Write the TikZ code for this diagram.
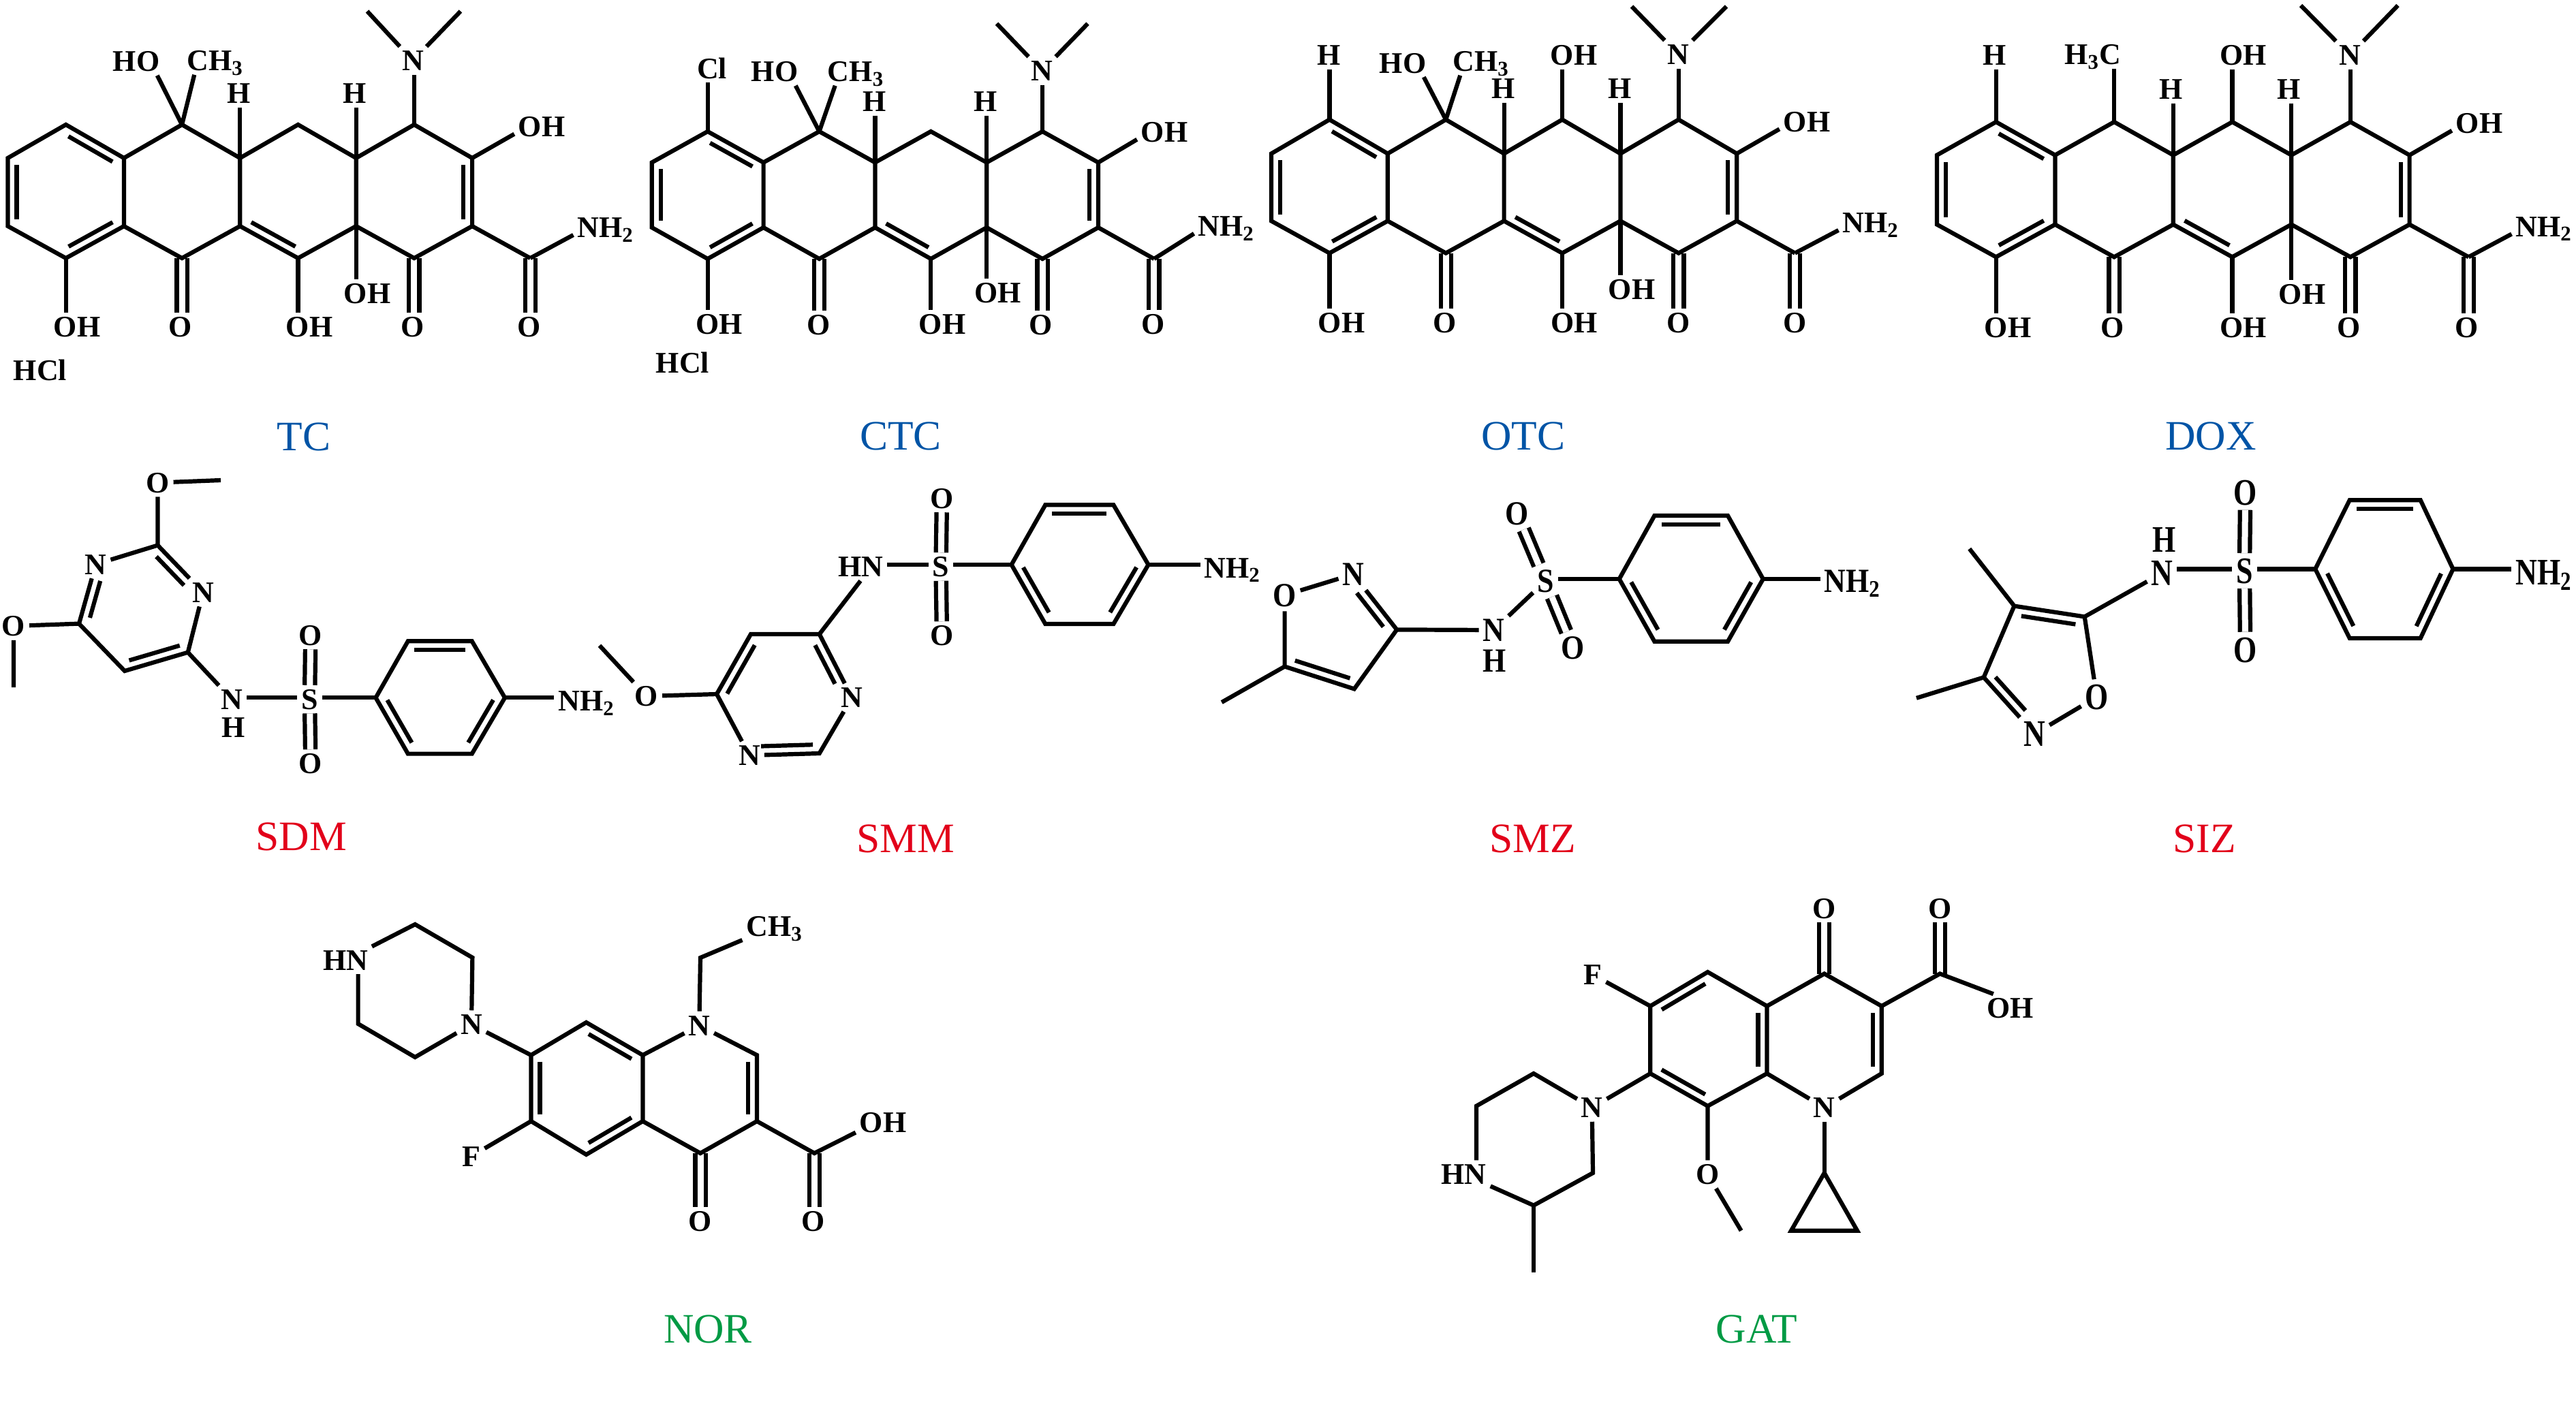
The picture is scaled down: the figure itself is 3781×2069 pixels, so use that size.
\documentclass[tikz,border=0pt]{standalone}
\usepackage{fontspec}
\setmainfont{Liberation Serif}
\usetikzlibrary{calc}

\definecolor{tetrablue}{RGB}{0,84,166}
\definecolor{sulfared}{RGB}{226,0,26}
\definecolor{quingreen}{RGB}{0,154,68}

\newcommand{\innerbond}[5]{
    \draw[bond] ($(#1)!#4!(#2)!0.13cm!#3:(#2)$) -- ($(#1)!#5!(#2)!0.13cm!#3:(#2)$);
}

\newcommand{\tetragrid}[7]{
    \foreach \col in {0,2,4,6,8} {
        \coordinate (#1u\col) at ({#2+\col*#3},#5);
        \coordinate (#1l\col) at ({#2+\col*#3},#6);
    }
    \foreach \col in {1,3,5,7,9} {
        \coordinate (#1t\col) at ({#2+\col*#3},#4);
        \coordinate (#1b\col) at ({#2+\col*#3},#7);
    }
}

\newcommand{\tetrabonds}[1]{
    \draw[dblbond] (#1b3) -- (#1b3 |- #1ob.north);
    \draw[dblbond] (#1b7) -- (#1b7 |- #1oe.north);
    \draw[dblbond] (#1b9) -- (#1b9 |- #1of.north);
    \draw[bond] (#1u0) -- (#1t1) -- (#1u2) -- (#1t3) -- (#1u4) -- (#1t5) -- (#1u6) -- (#1t7) -- (#1u8)
        -- (#1l8) -- (#1b7) -- (#1l6) -- (#1b5) -- (#1l4) -- (#1b3) -- (#1l2) -- (#1b1) -- (#1l0) -- cycle;
    \draw[bond] (#1u2) -- (#1l2) (#1u4) -- (#1l4) (#1u6) -- (#1l6) (#1l8) -- (#1b9);
    \innerbond{#1u0}{#1l0}{90}{.1}{.9}
    \innerbond{#1t1}{#1u2}{-90}{.12}{.88}
    \innerbond{#1b1}{#1l2}{90}{.12}{.88}
    \innerbond{#1l4}{#1b5}{90}{.12}{.88}
    \innerbond{#1u8}{#1l8}{-90}{.1}{.9}
    \draw[bond] (#1b1) -- (#1b1 |- #1oa.north);
    \draw[bond] (#1b5) -- (#1b5 |- #1oc.north);
    \draw[bond] (#1l6) -- (#1l6 |- #1od.north);
    \draw[bond] (#1u4) -- (#1u4 |- #1hd.south);
    \draw[bond] (#1u6) -- (#1u6 |- #1hf.south);
    \draw[bond] (#1t7) -- (#1t7 |- #1n.south);
    \draw[bond] (#1ma) -- (#1n) -- (#1mb);
    \draw[bond] (#1u8) -- (#1oh.195);
    \draw[bond] (#1b9) -- (#1nh.193);
}

\newcommand{\aminophenyl}[8]{
    \coordinate (#1a) at (#2,#7);
    \coordinate (#1b) at (#3,#6);
    \coordinate (#1c) at (#4,#6);
    \coordinate (#1d) at (#5,#7);
    \coordinate (#1e) at (#4,#8);
    \coordinate (#1f) at (#3,#8);
    \draw[bond] (#1a) -- (#1b) -- (#1c) -- (#1d) -- (#1e) -- (#1f) -- cycle;
    \innerbond{#1b}{#1c}{-90}{.1}{.9}
    \innerbond{#1a}{#1f}{90}{.12}{.88}
    \innerbond{#1d}{#1e}{-90}{.12}{.88}
    \draw[bond] (#1a) -- (#1a -| #1s.east);
    \draw[bond] (#1d) -- (#1d -| #1nh.west);
    \draw[dblbond] (#1s) -- (#1ou);
    \draw[dblbond] (#1s) -- (#1od);
}

\begin{document}
\begin{tikzpicture}[
        x=0.01cm,
        y=-0.01cm,
        bond/.style={line width=0.062cm, line join=miter},
        dblbond/.style={bond, double, double distance=0.09cm},
        atom/.style={font=\fontsize{12.5}{15}\bfseries\selectfont, inner sep=1.5pt, text height=8.4pt, text depth=0pt},
        tallatom/.style={atom, yscale=#1, transform shape},
        drugname/.style={font=\fontsize{17.5}{21}\selectfont, inner sep=0pt}
    ]
    \useasboundingbox (0,0) rectangle (3781,2069);

    \tetragrid{tc}{11.5}{85.2}{183}{232}{332}{379}
    \node[atom] (tcn) at (606,89) {N};
    \node[atom] (tcoh) at (795,186) {OH};
    \node[atom] (tcnh) at (889,334) {NH\textsubscript{2}};
    \node[atom] (tcoa) at (113,480) {OH};
    \node[atom] (tcob) at (265,480) {O};
    \node[atom] (tcoc) at (454,480) {OH};
    \node[atom] (tcod) at (539,431) {OH};
    \node[atom] (tcoe) at (606,480) {O};
    \node[atom] (tcof) at (777,480) {O};
    \node[atom] (tchd) at (351,137) {H};
    \node[atom] (tchf) at (521,137) {H};
    \node[atom] (tcho) at (200,90) {HO};
    \node[atom] (tcme) at (316,89) {CH\textsubscript{3}};
    \node[atom] (tchcl) at (59,544) {HCl};
    \coordinate (tcma) at (539,16.5);
    \coordinate (tcmb) at (676,16.5);
    \tetrabonds{tc}
    \draw[bond] (tct3) -- (tcho.-34);
    \draw[bond] (tct3) -- (tcme.214);
    \node[drugname, text=tetrablue] (tcname) at (446,641) {TC};

    \tetragrid{ctc}{956.8}{81.9}{193}{238.5}{334}{380}
    \node[atom] (ctcn) at (1529.5,104) {N};
    \node[atom] (ctcoh) at (1709,194) {OH};
    \node[atom] (ctcnh) at (1800,332) {NH\textsubscript{2}};
    \node[atom] (ctcoa) at (1055.6,476) {OH};
    \node[atom] (ctcob) at (1202,477) {O};
    \node[atom] (ctcoc) at (1383,476) {OH};
    \node[atom] (ctcod) at (1464.4,430) {OH};
    \node[atom] (ctcoe) at (1528,477) {O};
    \node[atom] (ctcof) at (1693,476) {O};
    \node[atom] (ctchd) at (1284,149) {H};
    \node[atom] (ctchf) at (1446.6,149) {H};
    \node[atom] (ctcho) at (1137,105) {HO};
    \node[atom] (ctcme) at (1256.5,105) {CH\textsubscript{3}};
    \node[atom] (ctccl) at (1045,100.6) {Cl};
    \node[atom] (ctchcl) at (1002,533) {HCl};
    \coordinate (ctcma) at (1463,34.7);
    \coordinate (ctcmb) at (1596.5,34.7);
    \tetrabonds{ctc}
    \draw[bond] (ctct3) -- (ctcho.-34);
    \draw[bond] (ctct3) -- (ctcme.214);
    \draw[bond] (ctct1) -- (ctct1 |- ctccl.south);
    \node[drugname, text=tetrablue] (ctcname) at (1322,640) {CTC};

    \tetragrid{otc}{1866}{85.4}{175.6}{225.5}{324.4}{371.6}
    \node[atom] (otcn) at (2463.5,80) {N};
    \node[atom] (otcoh) at (2652,178.7) {OH};
    \node[atom] (otcnh) at (2746,327) {NH\textsubscript{2}};
    \node[atom] (otcoa) at (1969,473.5) {OH};
    \node[atom] (otcob) at (2121,473.5) {O};
    \node[atom] (otcoc) at (2310.5,473.5) {OH};
    \node[atom] (otcod) at (2395,425) {OH};
    \node[atom] (otcoe) at (2463.5,473.5) {O};
    \node[atom] (otcof) at (2634.5,473.5) {O};
    \node[atom] (otchd) at (2207,130) {H};
    \node[atom] (otchf) at (2378,130) {H};
    \node[atom] (otcho) at (2059,92.4) {HO};
    \node[atom] (otcme) at (2174,90) {CH\textsubscript{3}};
    \node[atom] (otcha) at (1951,81) {H};
    \node[atom] (otcoi) at (2310,81) {OH};
    \coordinate (otcma) at (2395,9.5);
    \coordinate (otcmb) at (2534,9.5);
    \tetrabonds{otc}
    \draw[bond] (otct3) -- (otcho.-34);
    \draw[bond] (otct3) -- (otcme.214);
    \draw[bond] (otct1) -- (otct1 |- otcha.south);
    \draw[bond] (otct5) -- (otct5 |- otcoi.south);
    \node[drugname, text=tetrablue] (otcname) at (2236,640.5) {OTC};

    \tetragrid{dox}{2843}{86.7}{179}{227.7}{329.6}{377.3}
    \node[atom] (doxn) at (3449,81) {N};
    \node[atom] (doxoh) at (3639,181) {OH};
    \node[atom] (doxnh) at (3734,332.6) {NH\textsubscript{2}};
    \node[atom] (doxoa) at (2947,481) {OH};
    \node[atom] (doxob) at (3101,481) {O};
    \node[atom] (doxoc) at (3292.5,481) {OH};
    \node[atom] (doxod) at (3379,431.5) {OH};
    \node[atom] (doxoe) at (3447.5,481) {O};
    \node[atom] (doxof) at (3621,481) {O};
    \node[atom] (doxhd) at (3187,131) {H};
    \node[atom] (doxhf) at (3360,131) {H};
    \node[atom] (doxme) at (3072,80) {H\textsubscript{3}C};
    \node[atom] (doxha) at (2928,81) {H};
    \node[atom] (doxoi) at (3292.5,81) {OH};
    \coordinate (doxma) at (3377,8);
    \coordinate (doxmb) at (3519.5,8);
    \tetrabonds{dox}
    \draw[bond] (doxt3) -- (doxt3 |- doxme.south);
    \draw[bond] (doxt1) -- (doxt1 |- doxha.south);
    \draw[bond] (doxt5) -- (doxt5 |- doxoi.south);
    \node[drugname, text=tetrablue] (doxname) at (3245,640.5) {DOX};

    \node[atom] (sdmoa) at (231.5,708.6) {O};
    \node[atom] (sdmna) at (140.6,828.4) {N};
    \node[atom] (sdmnb) at (298,869.7) {N};
    \node[atom] (sdmoc) at (20,919) {O};
    \node[atom] (sdmn) at (340.6,1027) {N};
    \node[atom] (sdmh) at (342.4,1068) {H};
    \node[atom] (sdms) at (454.5,1026.6) {S};
    \node[atom] (sdmou) at (455.8,932.5) {O};
    \node[atom] (sdmod) at (455.8,1121) {O};
    \node[atom] (sdmnh) at (861,1029) {NH\textsubscript{2}};
    \coordinate (sdmca) at (231.5,800.5);
    \coordinate (sdmcb) at (116,915.6);
    \coordinate (sdmcc) at (183,985);
    \coordinate (sdmcd) at (275.8,957.7);
    \coordinate (sdmma) at (324,705);
    \coordinate (sdmmb) at (20,1009);
    \draw[bond] (sdmna) -- (sdmca) -- (sdmnb);
    \draw[bond] (sdmna) -- (sdmcb) -- (sdmcc) -- (sdmcd) -- (sdmnb);
    \innerbond{sdmca}{sdmnb}{-90}{.11}{.72}
    \innerbond{sdmna}{sdmcb}{90}{.24}{.86}
    \innerbond{sdmcc}{sdmcd}{90}{.11}{.91}
    \draw[bond] (sdmca) -- (sdmoa) -- (sdmma);
    \draw[bond] (sdmcb) -- (sdmoc) -- (sdmmb);
    \draw[bond] (sdmcd) -- (sdmn);
    \aminophenyl{sdm}{551.5}{598.8}{692.7}{741}{941.3}{1024.3}{1106.6}
    \draw[bond] (sdma -| sdmn.east) -- (sdma -| sdms.west);
    \node[drugname, text=sulfared] (sdmname) at (442.4,1228) {SDM};

    \node[atom] (smmoa) at (949,1022) {O};
    \node[atom] (smmna) at (1100,1109) {N};
    \node[atom] (smmnb) at (1250.5,1024) {N};
    \node[atom] (smmn) at (1263,832) {HN};
    \node[atom] (smms) at (1381,832) {S};
    \node[atom] (smmou) at (1382.5,731.4) {O};
    \node[atom] (smmod) at (1382.5,933) {O};
    \node[atom] (smmnh) at (1809,833.4) {NH\textsubscript{2}};
    \coordinate (smmca) at (1202.7,931);
    \coordinate (smmcb) at (1102,931);
    \coordinate (smmcc) at (1052,1019);
    \coordinate (smmcd) at (1202.7,1106);
    \coordinate (smmma) at (880,947.7);
    \draw[bond] (smmnb) -- (smmca) -- (smmcb) -- (smmcc) -- (smmna) -- (smmcd) -- (smmnb);
    \innerbond{smmca}{smmnb}{-90}{.11}{.72}
    \innerbond{smmcb}{smmcc}{90}{.11}{.92}
    \innerbond{smmna}{smmcd}{90}{.17}{.91}
    \draw[bond] (smmcc) -- (smmoa) -- (smmma);
    \draw[bond] (smmca) -- (smmn.south);
    \aminophenyl{smm}{1484.6}{1534.3}{1634.4}{1685.5}{741.3}{829}{916}
    \draw[bond] (smma -| smmn.east) -- (smma -| smms.west);
    \node[drugname, text=sulfared] (smmname) at (1329.6,1231.6) {SMM};

    \node[tallatom=1.13] (smzoa) at (1885.6,873.8) {O};
    \node[tallatom=1.13] (smzna) at (1986.4,843) {N};
    \node[tallatom=1.13] (smzn) at (2192.4,925) {N};
    \node[tallatom=1.13] (smzh) at (2193.7,969.5) {H};
    \node[tallatom=1.13] (smzs) at (2268.3,852.8) {S};
    \node[tallatom=1.13] (smzou) at (2226.8,754) {O};
    \node[tallatom=1.13] (smzod) at (2308.5,950.9) {O};
    \node[tallatom=1.13] (smznh) at (2719,852.8) {NH\textsubscript{2}};
    \coordinate (smzca) at (2050.2,924.4);
    \coordinate (smzcb) at (1987.7,1011.4);
    \coordinate (smzcc) at (1885.6,978.5);
    \coordinate (smzma) at (1793.2,1031);
    \draw[bond] (smzna) -- (smzca) -- (smzcb) -- (smzcc) -- (smzoa) -- (smzna);
    \innerbond{smzca}{smzna}{90}{.15}{.76}
    \innerbond{smzcc}{smzcb}{90}{.11}{.9}
    \draw[bond] (smzcc) -- (smzma);
    \draw[bond] (smzca) -- (smzn);
    \draw[bond] (smzs) -- (smzn);
    \aminophenyl{smz}{2376.7}{2428.4}{2536}{2587.8}{757}{850}{941.8}
    \node[drugname, text=sulfared] (smzname) at (2249.8,1231.6) {SMZ};

    \node[tallatom=1.25] (sizoa) at (3077.6,1023.2) {O};
    \node[tallatom=1.25] (sizna) at (2986.4,1077.4) {N};
    \node[tallatom=1.25] (sizn) at (3173.2,841.5) {N};
    \node[tallatom=1.25] (sizh) at (3176.4,792) {H};
    \node[tallatom=1.25] (sizs) at (3294.4,838) {S};
    \node[tallatom=1.25] (sizou) at (3295.7,722.7) {O};
    \node[tallatom=1.25] (sizod) at (3295.7,953.6) {O};
    \node[tallatom=1.25] (siznh) at (3733.8,840) {NH\textsubscript{2}};
    \coordinate (sizca) at (3059.7,905.4);
    \coordinate (sizcb) at (2956.4,889.6);
    \coordinate (sizcc) at (2911.7,994.4);
    \coordinate (sizma) at (2890.7,805.7);
    \coordinate (sizmb) at (2812.9,1024.8);
    \draw[bond] (sizoa) -- (sizca) -- (sizcb) -- (sizcc) -- (sizna) -- (sizoa);
    \innerbond{sizcb}{sizca}{-90}{.12}{.89}
    \innerbond{sizcc}{sizna}{90}{.1}{.69}
    \draw[bond] (sizcb) -- (sizma);
    \draw[bond] (sizcc) -- (sizmb);
    \draw[bond] (sizca) -- (sizn);
    \aminophenyl{siz}{3398.3}{3448.7}{3552.7}{3600.5}{734.2}{835.4}{937}
    \draw[bond] (siza -| sizn.east) -- (siza -| sizs.west);
    \node[drugname, text=sulfared] (sizname) at (3235.7,1231.6) {SIZ};

    \node[atom] (norhn) at (507,1409.4) {HN};
    \node[atom] (norna) at (692,1504) {N};
    \node[atom] (nornb) at (1026.3,1505.4) {N};
    \node[atom] (norf) at (692,1697.3) {F};
    \node[atom] (norme) at (1137,1360) {CH\textsubscript{3}};
    \node[atom] (noroh) at (1296,1648) {OH};
    \node[atom] (noroa) at (1028,1793) {O};
    \node[atom] (norob) at (1194,1793) {O};
    \coordinate (norpa) at (609.2,1357);
    \coordinate (norpb) at (693.4,1405.8);
    \coordinate (norpc) at (609.2,1552);
    \coordinate (norpd) at (525.6,1503);
    \coordinate (norca) at (779.5,1549);
    \coordinate (norcb) at (860.5,1501);
    \coordinate (norcc) at (943.4,1549);
    \coordinate (norcd) at (943.4,1646);
    \coordinate (norce) at (860.5,1695);
    \coordinate (norcf) at (779.5,1646);
    \coordinate (norcg) at (1111,1549);
    \coordinate (norch) at (1111,1646);
    \coordinate (norci) at (1028,1693);
    \coordinate (norcj) at (1028,1406);
    \coordinate (norck) at (1195.3,1693);
    \draw[dblbond] (norci) -- (norci |- noroa.north);
    \draw[dblbond] (norck) -- (norck |- norob.north);
    \draw[bond] (norhn) -- (norpa) -- (norpb) -- (norna) -- (norpc) -- (norpd) -- (norpd |- norhn.south);
    \draw[bond] (norna) -- (norca);
    \draw[bond] (norca) -- (norcb) -- (norcc) -- (norcd) -- (norce) -- (norcf) -- cycle;
    \draw[bond] (nornb) -- (norcc);
    \draw[bond] (nornb) -- (norcg) -- (norch) -- (norci) -- (norcd);
    \innerbond{norcb}{norcc}{-90}{.12}{.88}
    \innerbond{norca}{norcf}{90}{.1}{.9}
    \innerbond{norce}{norcd}{90}{.12}{.88}
    \innerbond{norcg}{norch}{-90}{.1}{.9}
    \draw[bond] (norcf) -- (norf);
    \draw[bond] (nornb) -- (norcj) -- (norme);
    \draw[bond] (norch) -- (norck) -- (noroh.200);
    \node[drugname, text=quingreen] (norname) at (1039,1951) {NOR};

    \node[atom] (gatna) at (2336.7,1626) {N};
    \node[atom] (gatnb) at (2677.7,1626) {N};
    \node[atom] (gathn) at (2148.7,1724) {HN};
    \node[atom] (gatf) at (2338,1431) {F};
    \node[atom] (gatoa) at (2677.7,1333.5) {O};
    \node[atom] (gatob) at (2847.4,1333.5) {O};
    \node[atom] (gatoh) at (2950.5,1480) {OH};
    \node[atom] (gatoc) at (2506.5,1724) {O};
    \coordinate (gatca) at (2506.5,1427);
    \coordinate (gatcb) at (2422.3,1477);
    \coordinate (gatcc) at (2422.3,1576);
    \coordinate (gatcd) at (2506.5,1623.7);
    \coordinate (gatce) at (2593.5,1576);
    \coordinate (gatcf) at (2593.5,1477);
    \coordinate (gatcg) at (2677.7,1429.5);
    \coordinate (gatch) at (2761.8,1477);
    \coordinate (gatci) at (2761.8,1576);
    \coordinate (gatcj) at (2847.4,1429.5);
    \coordinate (gatpa) at (2251,1576);
    \coordinate (gatpb) at (2167,1623.7);
    \coordinate (gatpc) at (2251,1769.6);
    \coordinate (gatpd) at (2338,1722);
    \coordinate (gatma) at (2251,1868);
    \coordinate (gatmb) at (2555.6,1806.7);
    \coordinate (gatra) at (2677.7,1722);
    \coordinate (gatrb) at (2629,1806.7);
    \coordinate (gatrc) at (2726,1806.7);
    \draw[dblbond] (gatcg) -- (gatoa);
    \draw[dblbond] (gatcj) -- (gatob);
    \draw[bond] (gatca) -- (gatcb) -- (gatcc) -- (gatcd) -- (gatce) -- (gatcf) -- cycle;
    \draw[bond] (gatcf) -- (gatcg) -- (gatch) -- (gatci) -- (gatnb) -- (gatce);
    \innerbond{gatcb}{gatca}{-90}{.12}{.88}
    \innerbond{gatcd}{gatcc}{-90}{.12}{.88}
    \innerbond{gatcf}{gatce}{-90}{.1}{.9}
    \innerbond{gatch}{gatci}{-90}{.1}{.9}
    \draw[bond] (gatcc) -- (gatna) -- (gatpa) -- (gatpb) -- (gatpb |- gathn.north);
    \draw[bond] (gathn) -- (gatpc) -- (gatpd) -- (gatna);
    \draw[bond] (gatpc) -- (gatma);
    \draw[bond] (gatcb) -- (gatf);
    \draw[bond] (gatcd) -- (gatoc) -- (gatmb);
    \draw[bond] (gatnb) -- (gatra);
    \draw[bond] (gatra) -- (gatrb) -- (gatrc) -- cycle;
    \draw[bond] (gatch) -- (gatcj) -- (gatoh.140);
    \node[drugname, text=quingreen] (gatname) at (2578.7,1951) {GAT};
\end{tikzpicture}
\end{document}
